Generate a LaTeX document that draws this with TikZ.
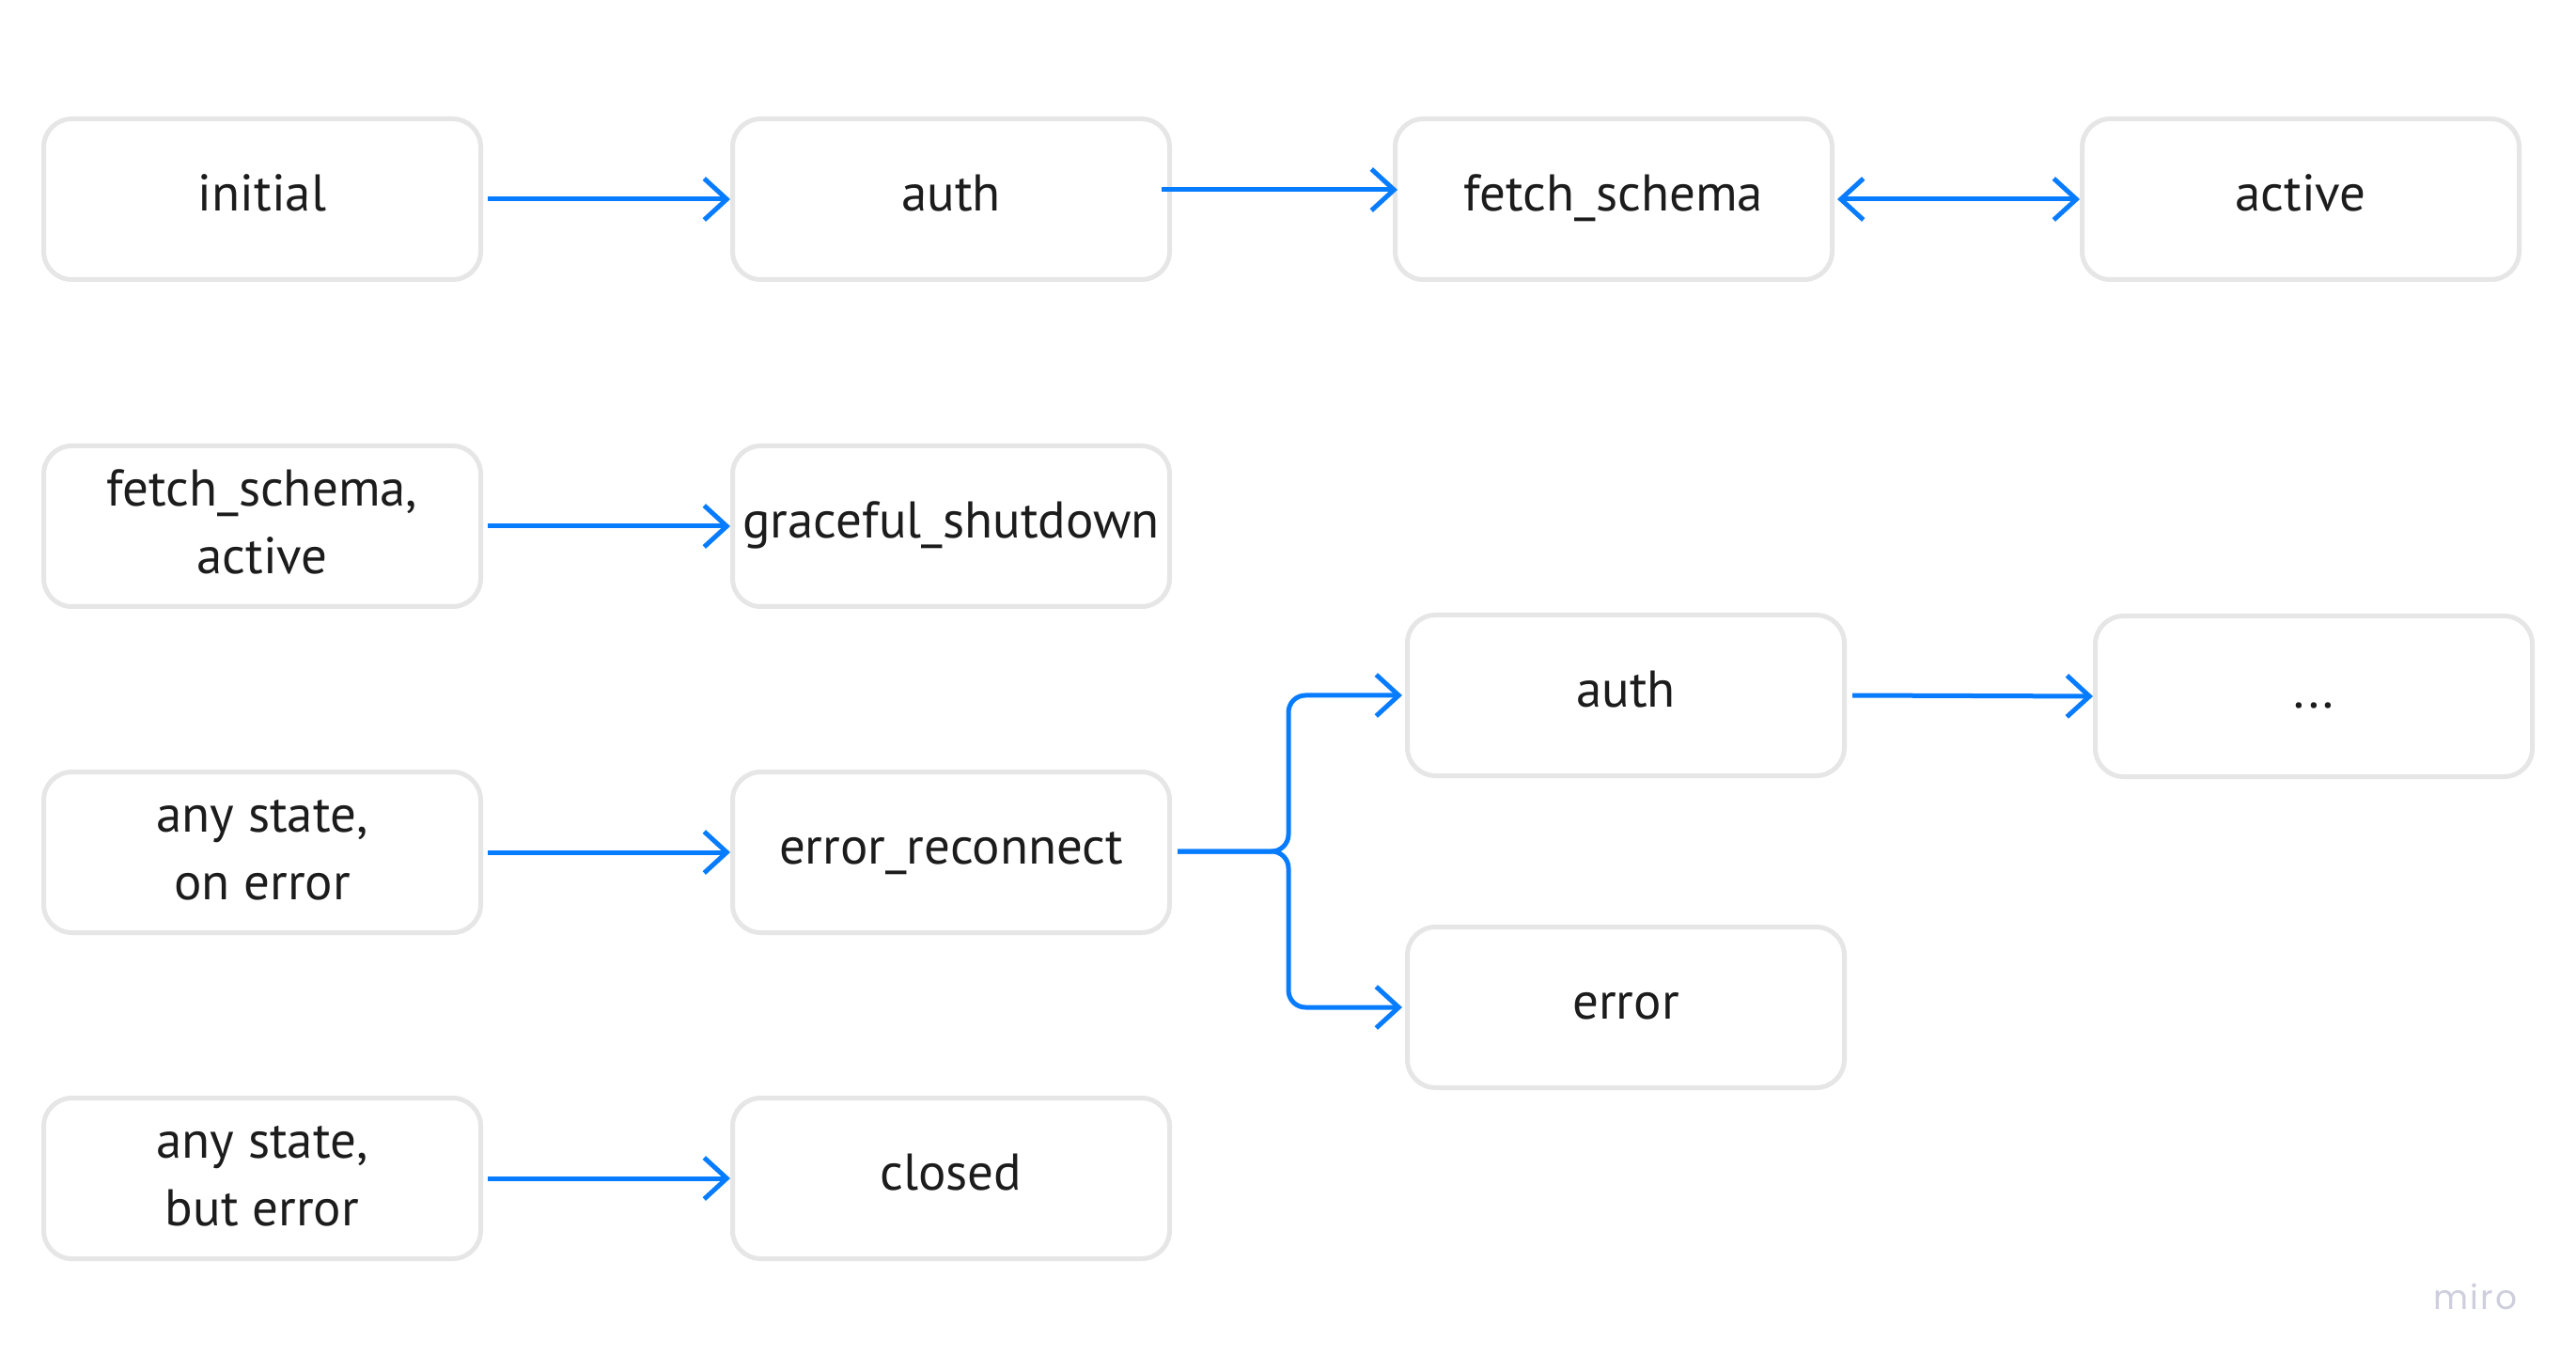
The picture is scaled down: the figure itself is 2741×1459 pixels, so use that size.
\documentclass[tikz,border=0pt]{standalone}
\usepackage{fontspec}
\setmainfont{PT Sans}
\newfontfamily\mirofont[LetterSpace=6]{Poppins}
\usetikzlibrary{arrows.meta,calc}
\definecolor{miroblue}{RGB}{8,124,255}
\definecolor{boxgray}{RGB}{230,230,230}
\definecolor{textdark}{RGB}{28,28,28}
\definecolor{mirogray}{RGB}{206,206,221}
\tikzset{
  boxbase/.style={draw=boxgray, line width=2.5pt, rounded corners=15pt, fill=white,
    minimum width=232.5pt, minimum height=85.5pt, inner sep=0pt, align=center,
    text=textdark, font=\fontsize{27.5}{36}\selectfont},
  box/.style={boxbase, text height=1.3em, text depth=0.04em},
  twobox/.style={boxbase},
  arr/.style={draw=miroblue, line width=2.5pt,
    -{Straight Barb[length=12pt, width=22pt, line width=2.5pt]}},
  darr/.style={draw=miroblue, line width=2.5pt,
    {Straight Barb[length=12pt, width=22pt, line width=2.5pt]}-{Straight Barb[length=12pt, width=22pt, line width=2.5pt]}}
}
\begin{document}
\begin{tikzpicture}[x=0.5pt,y=-0.5pt]
\fill[white] (0,0) rectangle (2741,1459);
\useasboundingbox (0,0) rectangle (2741,1459);

\node[box] (initial) at (279,212) {initial};
\node[box] (auth) at (1012,212) {auth};
\node[box] (fetch) at (1717,212) {fetch\_schema};
\node[box] (active) at (2448,212) {active};

\node[twobox] (fsa) at (279,560) {\strut fetch\_schema,\\\strut active};
\node[box] (graceful) at (1012,560) {graceful\_shutdown};

\node[twobox] (anyerr) at (279,907) {\strut any state,\\\strut on error};
\node[box] (reconnect) at (1012,907) {error\_reconnect};
\node[box] (auth2) at (1730,740) {auth};
\node[box] (dots) at (2462,741) {...};
\node[box] (err) at (1730,1072) {error};

\node[twobox] (anybut) at (279,1254) {\strut any state,\\\strut but error};
\node[box] (closed) at (1012,1254) {closed};

\node[font=\mirofont\fontsize{18}{18}\selectfont, text=mirogray, anchor=base, inner sep=0pt] (miro) at (2634,1393) {miro};

\coordinate (split) at (1371,906);

\draw[arr] ($(initial.east)+(5,0)$) -- (auth.west);
\draw[arr] ($(auth.east)+(-11,-10)$) -- ($(fetch.west)+(5,-10)$);
\draw[darr] ($(fetch.east)+(3,0)$) -- (active.west);
\draw[arr] ($(fsa.east)+(5,0)$) -- (graceful.west);
\draw[arr] ($(anyerr.east)+(5,0)$) -- (reconnect.west);
\draw[arr] ($(anybut.east)+(5,0)$) -- (closed.west);
\draw[arr] ($(auth2.east)+(6,0)$) -- (dots.west);
\draw[arr, rounded corners=9pt] ($(reconnect.east)+(6,-1)$) -- (split) -- (split |- auth2.west) -- ($(auth2.west)+(-3,0)$);
\draw[arr, rounded corners=9pt] ($(reconnect.east)+(6,-1)$) -- (split) -- (split |- err.west) -- ($(err.west)+(-3,0)$);
\end{tikzpicture}
\end{document}
